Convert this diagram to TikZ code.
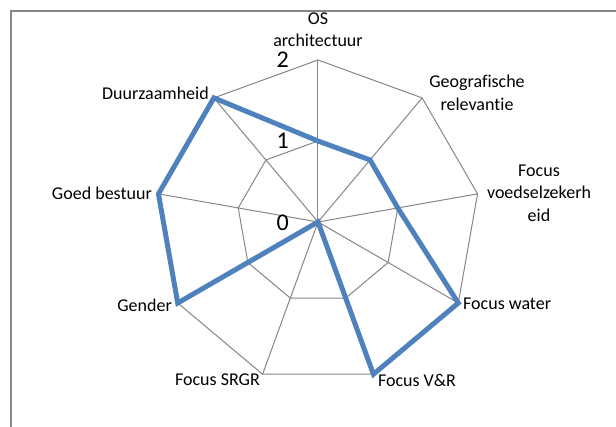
\documentclass[tikz,border=0pt]{standalone}
\usepackage{fontspec}
\setmainfont{Carlito}[Ligatures={NoCommon,NoContextual}]
\usepackage{tikz}
\usepackage{tkz-euclide}
\definecolor{webgray}{RGB}{134,134,134}
\definecolor{seriesblue}{RGB}{79,129,189}
\tikzset{
  web/.style={color=webgray,line width=1pt},
  chartframe/.style={color=webgray,line width=2pt},
  series/.style={color=seriesblue,line width=5pt,line join=miter},
  axislbl/.style={font=\fontsize{18}{22.5}\selectfont,align=center,inner sep=1pt},
  ticklbl/.style={font=\fontsize{24}{28}\selectfont,inner sep=1pt,anchor=east}
}

\begin{document}
\begin{tikzpicture}[x=1pt,y=1pt]
\useasboundingbox (-318,-204) rectangle (298,222);
\tkzDefPoint(0,0){O}
\foreach \ang/\p in {90/A,50/B,10/C,-30/D,-70/E,-110/F,-150/G,170/H,130/I}{
  \tkzDefPoint(\ang:162){\p}
  \tkzDefPoint(\ang:81){\p1}
}
\tkzDefPoint(-307,211){FTL}
\tkzDefPoint(300,211){FTR}
\tkzDefPoint(-307,-206){FBL}
\tkzDrawSegments[chartframe](FTL,FTR FTL,FBL)
\tkzDrawPolygon[web](A,B,C,D,E,F,G,H,I)
\tkzDrawPolygon[web](A1,B1,C1,D1,E1,F1,G1,H1,I1)
\tkzDrawSegments[web](O,A O,B O,C O,D O,E O,F O,G O,H O,I)
\tkzDrawPolygon[series](A1,B1,C1,D,E,O,G,H,I)
\node[axislbl] (os) at (0,192.5) {OS\\architectuur};
\node[axislbl] (geo) at (159,129) {Geografische\\relevantie};
\node[axislbl] (voedsel) at (221,29) {Focus\\voedselzekerh\\eid};
\node[axislbl,anchor=west] (water) at (144,-82) {Focus water};
\node[axislbl] (vr) at (99,-158) {Focus V\&R};
\node[axislbl,anchor=east] (srgr) at (-57,-158) {Focus SRGR};
\node[axislbl,anchor=east] (gender) at (-145,-83) {Gender};
\node[axislbl,anchor=east] (bestuur) at (-165,29) {Goed bestuur};
\node[axislbl,anchor=east] (duurz) at (-108,129) {Duurzaamheid};
\node[ticklbl] (tick2) at (-28,162) {2};
\node[ticklbl] (tick1) at (-28,81) {1};
\node[ticklbl] (tick0) at (-28,-1) {0};
\end{tikzpicture}
\end{document}
